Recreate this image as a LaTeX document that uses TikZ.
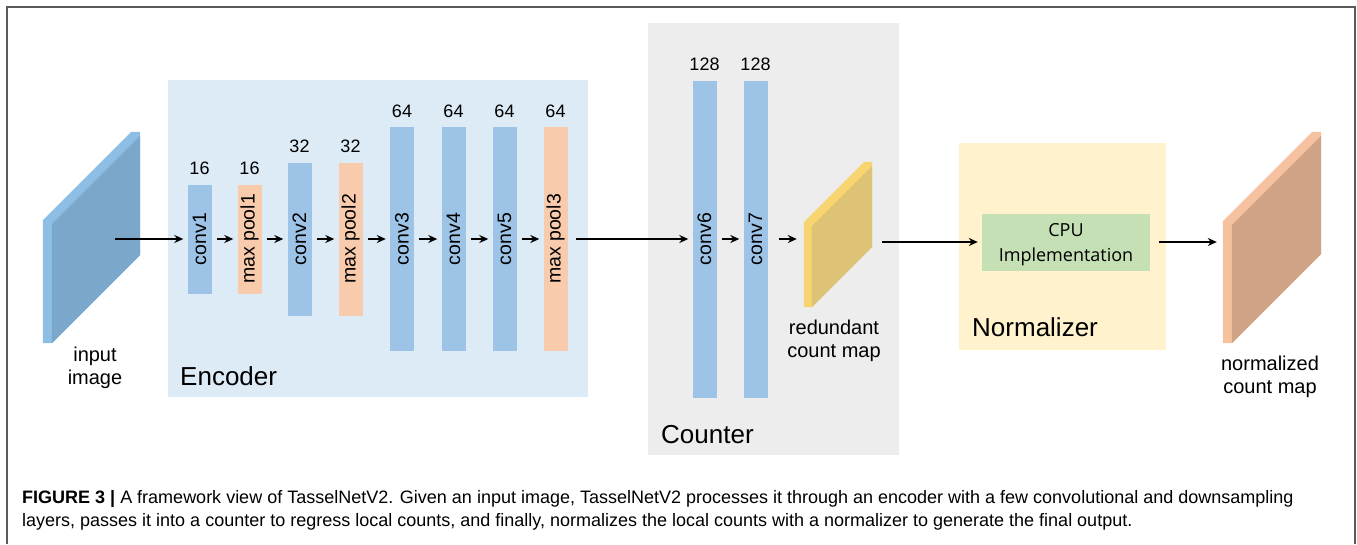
\documentclass[tikz,border=0pt]{standalone}
\usepackage{fontspec}
\setmainfont{Liberation Sans}
\newfontfamily\cpufont{Open Sans}
\usetikzlibrary{arrows.meta, positioning, calc}
\definecolor{capaAzul}{HTML}{9DC3E6}
\definecolor{capaRosa}{HTML}{F8CBAD}
\definecolor{encFondo}{HTML}{DDEBF7}
\definecolor{cntFondo}{HTML}{EDEDED}
\definecolor{normFondo}{HTML}{FFF2CC}
\definecolor{cpuVerde}{HTML}{C5E0B4}
\definecolor{imgBorde}{RGB}{141, 190, 228}
\definecolor{imgCara}{RGB}{123, 167, 203}
\definecolor{rcmBorde}{RGB}{247, 212, 112}
\definecolor{rcmCara}{RGB}{222, 195, 118}
\definecolor{outBorde}{RGB}{246, 193, 158}
\definecolor{outCara}{RGB}{208, 163, 135}
\definecolor{marco}{RGB}{90, 90, 90}

% lamina 3D sobre la caja de un nodo: nombre, color del canto, color de la cara, grosor
\newcommand{\lamina}[4]{%
  \fill[#2] let \p1=(#1.south west), \p2=(#1.north east), \n1={\x2-\x1-#4pt} in
    (\x1,\y1) -- (\x1,\y2-\n1) -- (\x2-#4pt,\y2) -- (\x2,\y2) -- (\x2,\y1+\n1) -- (\x1+#4pt,\y1) -- cycle;
  \fill[#3] let \p1=(#1.south west), \p2=(#1.north east), \n1={\x2-\x1-#4pt} in
    (\x1+#4pt,\y1) -- (\x1+#4pt,\y2-\n1-4pt) -- (\x2,\y2-4pt) -- (\x2,\y1+\n1) -- cycle;
}

\begin{document}
\begin{tikzpicture}[x=1pt, y=-1pt,
        grupo/.style={rectangle, inner sep=0pt},
        capa/.style={rectangle, inner sep=0pt, minimum width=24pt, font=\fontsize{19.5}{22}\selectfont},
        num/.style={inner sep=2pt, font=\fontsize{18}{22}\selectfont},
        laminaCaja/.style={rectangle, inner sep=0pt},
        etiq/.style={align=center, font=\fontsize{20}{23}\selectfont},
        titulo/.style={anchor=base west, inner sep=0pt, font=\fontsize{26}{30}\selectfont},
        leyenda/.style={anchor=base west, inner sep=0pt, font=\fontsize{18}{23}\selectfont},
        flecha/.style={-{Stealth[length=9pt, width=8pt]}, line width=1.6pt, shorten <=5pt, shorten >=4pt}]
    \useasboundingbox (0,0) rectangle (1357,544);
    \draw[marco, line width=1.5pt] (7,544) -- (7,7) -- (1355,7) -- (1355,544);

    % bloques de fondo
    \node[grupo, fill=encFondo, minimum width=420pt, minimum height=317pt] (enc) at (378,238.5) {};
    \node[grupo, fill=cntFondo, minimum width=251pt, minimum height=432pt] (cnt) at (773.5,239) {};
    \node[grupo, fill=normFondo, minimum width=207pt, minimum height=207pt] (norm) at (1062.5,246.5) {};
    \node[grupo, fill=cpuVerde, minimum width=168pt, minimum height=57pt, align=center, text depth=0pt,
          font=\cpufont\fontsize{18}{25}\selectfont] (cpu) at (1066,242) {CPU\\Implementation};
    \node[titulo] (tEnc) at (180,385) {Encoder};
    \node[titulo] (tCnt) at (661,443) {Counter};
    \node[titulo] (tNorm) at (972,336) {Normalizer};

    % capas
    \node[capa, fill=capaAzul, minimum height=109pt] (conv1) at (199.5,239) {\rotatebox{90}{conv1}};
    \node[capa, fill=capaRosa, minimum height=109pt] (pool1) at (249.5,239) {\rotatebox{90}{max pool1}};
    \node[capa, fill=capaAzul, minimum height=153pt] (conv2) at (299.5,239) {\rotatebox{90}{conv2}};
    \node[capa, fill=capaRosa, minimum height=153pt] (pool2) at (350.5,239) {\rotatebox{90}{max pool2}};
    \node[capa, fill=capaAzul, minimum height=224pt] (conv3) at (402,239) {\rotatebox{90}{conv3}};
    \node[capa, fill=capaAzul, minimum height=224pt] (conv4) at (453.5,239) {\rotatebox{90}{conv4}};
    \node[capa, fill=capaAzul, minimum height=224pt] (conv5) at (504.5,239) {\rotatebox{90}{conv5}};
    \node[capa, fill=capaRosa, minimum height=224pt] (pool3) at (555.5,239) {\rotatebox{90}{max pool3}};
    \node[capa, fill=capaAzul, minimum height=317pt] (conv6) at (704.5,239) {\rotatebox{90}{conv6}};
    \node[capa, fill=capaAzul, minimum height=317pt] (conv7) at (755.5,239) {\rotatebox{90}{conv7}};

    \node[num, above=7pt of conv1] (n1) {16};
    \node[num, above=7pt of pool1] (n2) {16};
    \node[num, above=7pt of conv2] (n3) {32};
    \node[num, above=7pt of pool2] (n4) {32};
    \node[num, above=7pt of conv3] (n5) {64};
    \node[num, above=7pt of conv4] (n6) {64};
    \node[num, above=7pt of conv5] (n7) {64};
    \node[num, above=7pt of pool3] (n8) {64};
    \node[num, above=7pt of conv6] (n9) {128};
    \node[num, above=7pt of conv7] (n10) {128};

    % mapas
    \node[laminaCaja, minimum width=97pt, minimum height=211pt] (img) at (91.5,237.5) {};
    \node[laminaCaja, minimum width=68pt, minimum height=145pt] (rcm) at (838,234.5) {};
    \node[laminaCaja, minimum width=98pt, minimum height=211pt] (out) at (1272,237.5) {};
    \lamina{img}{imgBorde}{imgCara}{9}
    \lamina{rcm}{rcmBorde}{rcmCara}{8}
    \lamina{out}{outBorde}{outCara}{9}
    \node[etiq] (tImg) at (95,368) {input\\image};
    \node[etiq] (tRcm) at (834,341) {redundant\\count map};
    \node[etiq] (tOut) at (1270,377) {normalized\\count map};

    % flechas
    \coordinate (imgSal) at (115,239);
    \draw[flecha, shorten <=0pt] (imgSal) -- (conv1);
    \draw[flecha] (conv1) -- (pool1);
    \draw[flecha] (pool1) -- (conv2);
    \draw[flecha] (conv2) -- (pool2);
    \draw[flecha] (pool2) -- (conv3);
    \draw[flecha] (conv3) -- (conv4);
    \draw[flecha] (conv4) -- (conv5);
    \draw[flecha] (conv5) -- (pool3);
    \draw[flecha, shorten <=8pt] (pool3) -- (conv6);
    \draw[flecha] (conv6) -- (conv7);
    \draw[flecha, shorten <=11pt, shorten >=7pt] (conv7) -- (rcm.west |- conv7);
    \draw[flecha, shorten <=10pt] (rcm.east |- cpu) -- (cpu);
    \draw[flecha, shorten <=9pt, shorten >=6pt] (cpu) -- (out.west |- cpu);

    % pie de figura
    \node[leyenda] (cap1) at (22,503) {\textbf{FIGURE 3 |} A framework view of TasselNetV2. Given an input image, TasselNetV2 processes it through an encoder with a few convolutional and downsampling};
    \node[leyenda] (cap2) at (22,526) {layers, passes it into a counter to regress local counts, and finally, normalizes the local counts with a normalizer to generate the final output.};
\end{tikzpicture}
\end{document}
